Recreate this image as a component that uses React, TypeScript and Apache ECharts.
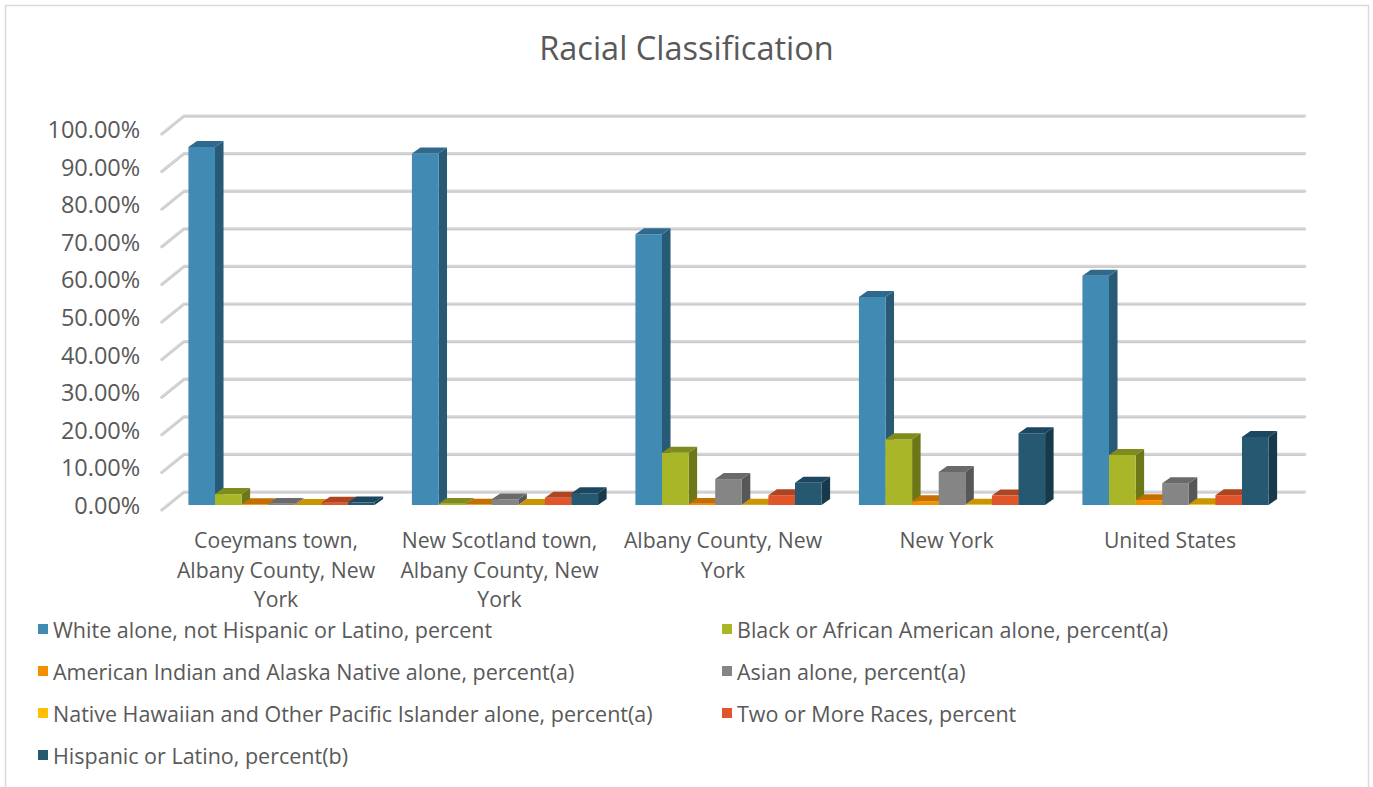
import React, { useEffect, useRef } from "react";
import * as echarts from "echarts";

const categories = [
  "Coeymans town, Albany County, New York",
  "New Scotland town, Albany County, New York",
  "Albany County, New York",
  "New York",
  "United States",
];

const seriesNames = [
  "White alone, not Hispanic or Latino, percent",
  "Black or African American alone, percent(a)",
  "American Indian and Alaska Native alone, percent(a)",
  "Asian alone, percent(a)",
  "Native Hawaiian and Other Pacific Islander alone, percent(a)",
  "Two or More Races, percent",
  "Hispanic or Latino, percent(b)",
];

const whiteAlone = [95.2, 93.5, 72.0, 55.3, 61.0];
const blackAlone = [2.9, 0.3, 13.9, 17.5, 13.3];
const amIndianAlone = [0.2, 0.1, 0.3, 1.0, 1.3];
const asianAlone = [0.3, 1.5, 6.9, 8.8, 5.8];
const hawaiianAlone = [0.0, 0.0, 0.05, 0.1, 0.2];
const twoOrMore = [0.6, 1.9, 2.6, 2.5, 2.6];
const hispanic = [0.7, 3.1, 5.9, 19.1, 18.1];

const seriesValues = [whiteAlone, blackAlone, amIndianAlone, asianAlone, hawaiianAlone, twoOrMore, hispanic];

const yTicks = [0, 10, 20, 30, 40, 50, 60, 70, 80, 90, 100];

// front, side, top colours per series
const palette = [
  { front: "#418ab3", side: "#285a76", top: "#2f6a8c" },
  { front: "#a8b628", side: "#6c7818", top: "#7f8b1d" },
  { front: "#f39000", side: "#a86300", top: "#c46f00" },
  { front: "#858585", side: "#575757", top: "#6a6a6a" },
  { front: "#ffc000", side: "#b08400", top: "#c99600" },
  { front: "#e1552a", side: "#9c3a1c", top: "#b04420" },
  { front: "#265871", side: "#173a4b", top: "#1d4760" },
];

const FONT = "'Open Sans', Lato, sans-serif";
const TEXT = "#595959";

const BAR_FRAC = 0.119;
const SHIFT = 5.5;

function wrapLabel(s: string, maxChars: number): string {
  const words = s.split(" ");
  const lines: string[] = [];
  let cur = "";
  for (const w of words) {
    const cand = cur ? cur + " " + w : w;
    if (cand.length > maxChars && cur) {
      lines.push(cur);
      cur = w;
    } else {
      cur = cand;
    }
  }
  if (cur) lines.push(cur);
  return lines.join("\n");
}

function makeBarRender(idx: number) {
  const c = palette[idx];
  return (params: any, api: any) => {
    const cat = api.value(0);
    const v = api.value(1);
    const base = api.coord([cat, 0]);
    const top = api.coord([cat, v]);
    const band = api.size([1, 0])[0];
    const w = band * BAR_FRAC;
    const x0 = base[0] - 3.5 * w + idx * w + SHIFT;
    const dx = w * 0.32;
    const dy = w * 0.225;
    const yb = base[1];
    const yt = top[1];
    return {
      type: "group",
      children: [
        {
          type: "polygon",
          shape: { points: [[x0 + w, yt], [x0 + w + dx, yt - dy], [x0 + w + dx, yb - dy], [x0 + w, yb]] },
          style: { fill: c.side },
        },
        {
          type: "rect",
          shape: { x: x0, y: yt, width: w, height: Math.max(0, yb - yt) },
          style: { fill: c.front },
        },
        {
          type: "polygon",
          shape: { points: [[x0, yt], [x0 + dx, yt - dy], [x0 + w + dx, yt - dy], [x0 + w, yt]] },
          style: { fill: c.top },
        },
      ],
    };
  };
}

function gridRender(params: any, api: any) {
  const cs = params.coordSys;
  const y = api.coord([0, api.value(1)])[1] - 13;
  const xl = cs.x + 19.75;
  const xr = cs.x + cs.width + 23;
  const xf = cs.x - 2.5;
  const yf = y + 18;
  return {
    type: "group",
    children: [
      {
        type: "polyline",
        shape: { points: [[xf, yf], [xl, y], [xr, y]] },
        style: { stroke: "#d6d6d6", lineWidth: 3.2, fill: "none", lineCap: "round", lineJoin: "round" },
      },
      {
        type: "polyline",
        shape: { points: [[xf, yf + 0.8], [xl, y + 0.8], [xr, y + 0.8]] },
        style: { stroke: "#c4c4c4", lineWidth: 0.8, fill: "none" },
      },
    ],
  };
}

export default function App() {
  const ref = useRef<HTMLDivElement>(null);
  useEffect(() => {
    if (!ref.current) return;
    const chart = echarts.init(ref.current, null, { renderer: "svg" });
    const barSeries = seriesNames.map((name, i) => ({
      type: "custom",
      name,
      z: 3,
      itemStyle: { color: palette[i].front },
      encode: { x: 0, y: 1 },
      data: seriesValues[i].map((v, k) => [k, v]),
      renderItem: makeBarRender(i),
    }));
    const legendText = { fontFamily: FONT, fontSize: 21.5, color: TEXT, lineHeight: 22 };
    const option: any = {
      animation: false,
      backgroundColor: "#ffffff",
      textStyle: { fontFamily: FONT },
      title: {
        text: "Racial Classification",
        left: "center",
        top: 26,
        textStyle: { fontFamily: FONT, fontSize: 32.5, fontWeight: "normal", color: TEXT },
      },
      graphic: [
        {
          type: "rect",
          shape: { x: 5.5, y: 5.5, width: 1363, height: 800 },
          style: { fill: "none", stroke: "#d9d9d9", lineWidth: 1.5 },
          silent: true,
        },
      ],
      legend: [
        {
          orient: "vertical",
          left: 33,
          top: 613,
          icon: "rect",
          itemWidth: 10,
          itemHeight: 10,
          itemGap: 20,
          textStyle: legendText,
          data: [seriesNames[0], seriesNames[2], seriesNames[4], seriesNames[6]],
        },
        {
          orient: "vertical",
          left: 717,
          top: 613,
          icon: "rect",
          itemWidth: 10,
          itemHeight: 10,
          itemGap: 20,
          textStyle: legendText,
          data: [seriesNames[1], seriesNames[3], seriesNames[5]],
        },
      ],
      grid: { left: 164.25, width: 1117.5, top: 129, bottom: 282, containLabel: false },
      xAxis: {
        type: "category",
        data: categories,
        axisLine: { show: false },
        axisTick: { show: false },
        splitLine: { show: false },
        axisLabel: {
          interval: 0,
          margin: 20,
          fontFamily: FONT,
          fontSize: 21.2,
          lineHeight: 29.5,
          color: TEXT,
          formatter: (s: string) => wrapLabel(s, 18),
        },
      },
      yAxis: {
        type: "value",
        min: 0,
        max: 100,
        interval: 10,
        axisLine: { show: false },
        axisTick: { show: false },
        splitLine: { show: false },
        axisLabel: {
          margin: 24,
          fontFamily: FONT,
          fontSize: 23.5,
          color: TEXT,
          padding: [6, 0, 0, 0],
          formatter: (v: number) => v.toFixed(2) + "%",
        },
      },
      series: [
        {
          type: "custom",
          name: "gridlines",
          silent: true,
          z: 1,
          encode: { x: 0, y: 1 },
          data: yTicks.map((t) => [0, t]),
          renderItem: gridRender,
          tooltip: { show: false },
        },
        ...barSeries,
      ],
    };
    chart.setOption(option);
    return () => chart.dispose();
  }, []);
  return (
    <div
      ref={ref}
      style={{ position: "absolute", left: 0, top: 0, width: 1373, height: 787 }}
    />
  );
}
